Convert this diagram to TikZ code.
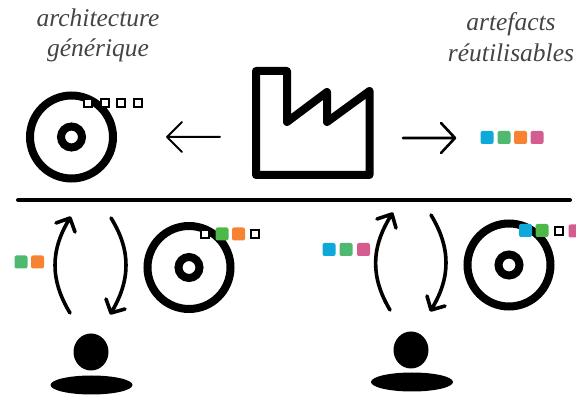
\documentclass[tikz,border=0pt]{standalone}
\usepackage{fontspec}
\setmainfont{Liberation Serif}
\definecolor{cblue}{HTML}{0EA9D8}
\definecolor{cgreen}{HTML}{4FB96F}
\definecolor{cleaf}{HTML}{4DB848}
\definecolor{corange}{HTML}{F78231}
\definecolor{cpink}{HTML}{D45C8E}
\definecolor{captxt}{HTML}{444444}
\tikzset{
  caption/.style={text=captxt,inner sep=0pt,anchor=base,font=\fontsize{25.5}{25.5}\selectfont\itshape},
  disc/.style={draw=black,line width=8pt,fill=white,circle,inner sep=0pt,outer sep=0pt,minimum size=83pt},
  hub/.style={draw=black,line width=8pt,fill=white,circle,inner sep=0pt,outer sep=0pt,minimum size=21pt},
  slot/.style={draw=black,line width=2pt,fill=white,inner sep=0pt,outer sep=0pt,minimum size=7.5pt},
  chip/.style={fill=#1,draw=none,rounded corners=2pt,inner sep=0pt,outer sep=0pt,minimum size=13pt},
  thin arrow/.style={draw=black,line cap=round,line join=round},
  loop/.style={draw=black,line width=3.6pt,line cap=round,line join=round},
  head/.style={fill=black,draw=none,circle,inner sep=0pt,outer sep=0pt},
  body/.style={fill=black,draw=none,ellipse,inner sep=0pt,outer sep=0pt,minimum width=82pt,minimum height=19pt},
}
\usetikzlibrary{shapes.geometric}
\begin{document}
\begin{tikzpicture}[x=1pt,y=-1pt]
\useasboundingbox (0,0) rectangle (576,395);
% captions
\node[caption] (c1) at (98,27) {architecture};
\node[caption] (c2) at (98,57) {générique};
\node[caption] (c3) at (511,31) {artefacts};
\node[caption] (c4) at (511,62) {réutilisables};
% top disc
\node[disc] (d1) at (71.5,137) {};
\node[hub] (h1) at (71.5,137) {};
\node[slot] (s11) at (88,103) {};
\node[slot] (s12) at (105,103) {};
\node[slot] (s13) at (121,103) {};
\node[slot] (s14) at (138,103) {};
% factory
\draw[line width=8pt,line join=round] (256,71) -- (287,71) -- (287,122) -- (327,92) -- (327,122) -- (369.5,91) -- (369.5,175) -- (256,175) -- cycle;
% top arrows
\coordinate (a1s) at (220,137);
\coordinate (a1e) at (167,137);
\coordinate (a1u) at (182,122);
\coordinate (a1d) at (182,152);
\draw[thin arrow,line width=2pt] (a1s) -- (a1e) (a1u) -- (a1e) -- (a1d);
\coordinate (a2s) at (403,138);
\coordinate (a2e) at (455,138);
\coordinate (a2u) at (441,123);
\coordinate (a2d) at (441,153);
\draw[thin arrow,line width=2.6pt] (a2s) -- (a2e) (a2u) -- (a2e) -- (a2d);
% artefacts
\node[chip=cblue] (t1) at (487,137.5) {};
\node[chip=cgreen] (t2) at (504,137.5) {};
\node[chip=corange] (t3) at (520.5,137.5) {};
\node[chip=cpink] (t4) at (537,137.5) {};
% rule
\coordinate (r1) at (18,200);
\coordinate (r2) at (570,200);
\draw[line width=4pt,line cap=round] (r1) -- (r2);
% bottom left
\coordinate (l1a) at (70,313); \coordinate (l1b) at (70,218);
\coordinate (l1u) at (56,223); \coordinate (l1v) at (75,232);
\draw[loop] (l1a) .. controls (50,280) and (50,250) .. (l1b) (l1u) -- (l1b) -- (l1v);
\coordinate (l2a) at (111,218); \coordinate (l2b) at (111,313);
\coordinate (l2u) at (106,299); \coordinate (l2v) at (125,309);
\draw[loop] (l2a) .. controls (131,250) and (131,280) .. (l2b) (l2u) -- (l2b) -- (l2v);
\node[chip=cgreen] (b1) at (21,262) {};
\node[chip=corange] (b2) at (37.5,262) {};
\node[disc] (d2) at (189,267.5) {};
\node[hub] (h2) at (189,267.5) {};
\node[slot] (s21) at (205,234) {};
\node[chip=cleaf] (s22) at (222,234) {};
\node[chip=corange] (s23) at (238.5,234) {};
\node[slot] (s24) at (255,234) {};
\node[head,minimum width=35pt,minimum height=37pt,ellipse] (p1) at (91,352) {};
\node[body] (q1) at (91.5,385) {};
% bottom right
\coordinate (m1a) at (390,310); \coordinate (m1b) at (392,214);
\coordinate (m1u) at (377,219); \coordinate (m1v) at (396,228);
\draw[loop] (m1a) .. controls (371,278) and (370,248) .. (m1b) (m1u) -- (m1b) -- (m1v);
\coordinate (m2a) at (431,215); \coordinate (m2b) at (431,310);
\coordinate (m2u) at (427,296); \coordinate (m2v) at (445,306);
\draw[loop] (m2a) .. controls (451,248) and (451,278) .. (m2b) (m2u) -- (m2b) -- (m2v);
\node[chip=cblue] (e1) at (329,249.5) {};
\node[chip=cgreen] (e2) at (346,249.5) {};
\node[chip=cpink] (e3) at (363.5,249.5) {};
\node[disc] (d3) at (509,265) {};
\node[hub] (h3) at (509,265) {};
\node[chip=cblue] (s31) at (525.5,230.5) {};
\node[chip=cleaf] (s32) at (542,230.5) {};
\node[slot] (s33) at (559,231) {};
\node[chip=cpink] (s34) at (575,231) {};
\node[head,minimum width=35pt,minimum height=37pt,ellipse] (p2) at (411,350) {};
\node[body] (q2) at (412,382) {};
\end{tikzpicture}
\end{document}
